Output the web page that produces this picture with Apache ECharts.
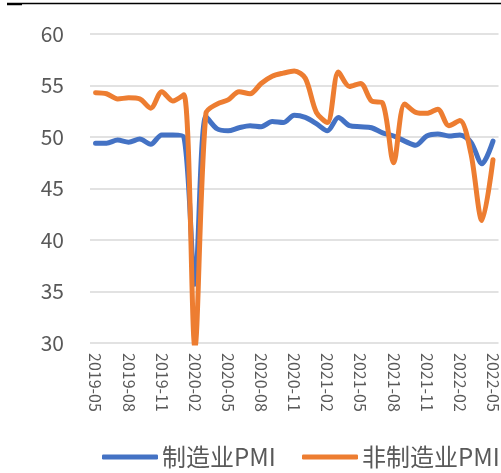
<!DOCTYPE html>
<html><head><meta charset="utf-8">
<script src="https://cdn.jsdelivr.net/npm/echarts@6/dist/echarts.min.js"></script>
<style>html,body{margin:0;padding:0;background:#fff}#c{width:501px;height:473px}</style>
</head><body><div id="c"></div>
<script>
const categories = ["2019-05","2019-06","2019-07","2019-08","2019-09","2019-10","2019-11","2019-12",
"2020-01","2020-02","2020-03","2020-04","2020-05","2020-06","2020-07","2020-08","2020-09","2020-10","2020-11","2020-12",
"2021-01","2021-02","2021-03","2021-04","2021-05","2021-06","2021-07","2021-08","2021-09","2021-10","2021-11","2021-12",
"2022-01","2022-02","2022-03","2022-04","2022-05"];
const manufacturing = [49.4,49.4,49.7,49.5,49.8,49.3,50.2,50.2,50.0,35.7,52.0,50.8,50.6,50.9,51.1,51.0,51.5,51.4,52.1,51.9,
51.3,50.6,51.9,51.1,51.0,50.9,50.4,50.1,49.6,49.2,50.1,50.3,50.1,50.2,49.5,47.4,49.6];
const nonManufacturing = [54.3,54.2,53.7,53.8,53.7,52.8,54.4,53.5,54.1,29.6,52.3,53.2,53.6,54.4,54.2,55.2,55.9,56.2,56.4,55.7,
52.4,51.4,56.3,54.9,55.2,53.5,53.3,47.5,53.2,52.4,52.3,52.7,51.1,51.6,48.4,41.9,47.8];
const seriesNames = ["制造业PMI","非制造业PMI"];
const yTicks = {min:30, max:60, interval:5};

const chart = echarts.init(document.getElementById('c'), null, {renderer:'canvas'});
const font = '"Noto Sans CJK SC", "Noto Sans", sans-serif';
const legendBase = {
  top:445, padding:0, itemWidth:56, itemHeight:5, icon:'roundRect',
  textStyle:{fontFamily:font, fontSize:24, color:'#595959', padding:[0,0,0,-1]}
};
chart.setOption({
  animation:false,
  backgroundColor:'#fff',
  graphic:[
    {type:'line', shape:{x1:7,y1:4,x2:22,y2:4}, style:{stroke:'#000', lineWidth:2.5}},
    {type:'line', shape:{x1:22,y1:3.5,x2:501,y2:3.5}, style:{stroke:'#000', lineWidth:1.5}}
  ],
  grid:{left:90, right:2, top:34, bottom:130, containLabel:false},
  legend:[
    Object.assign({left:102, data:[seriesNames[0]]}, legendBase),
    Object.assign({left:302, data:[seriesNames[1]]}, legendBase)
  ],
  xAxis:{
    type:'category', data:categories, boundaryGap:true,
    axisLine:{show:false}, axisTick:{show:false},
    axisLabel:{interval:2, rotate:-90, fontFamily:font, fontSize:16, color:'#595959', margin:10}
  },
  yAxis:{
    type:'value', min:yTicks.min, max:yTicks.max, interval:yTicks.interval,
    axisLine:{show:false}, axisTick:{show:false},
    axisLabel:{fontFamily:font, fontSize:21, color:'#595959', margin:26},
    splitLine:{lineStyle:{color:'#d9d9d9', width:1.5}}
  },
  series:[
    {name:seriesNames[0], type:'line', data:manufacturing, smooth:0.3, symbol:'none',
     lineStyle:{color:'#4472C4', width:5, cap:'round', join:'round'}, itemStyle:{color:'#4472C4'}},
    {name:seriesNames[1], type:'line', data:nonManufacturing, smooth:0.3, symbol:'none',
     lineStyle:{color:'#ED7D31', width:5, cap:'round', join:'round'}, itemStyle:{color:'#ED7D31'}}
  ]
});
</script></body></html>
